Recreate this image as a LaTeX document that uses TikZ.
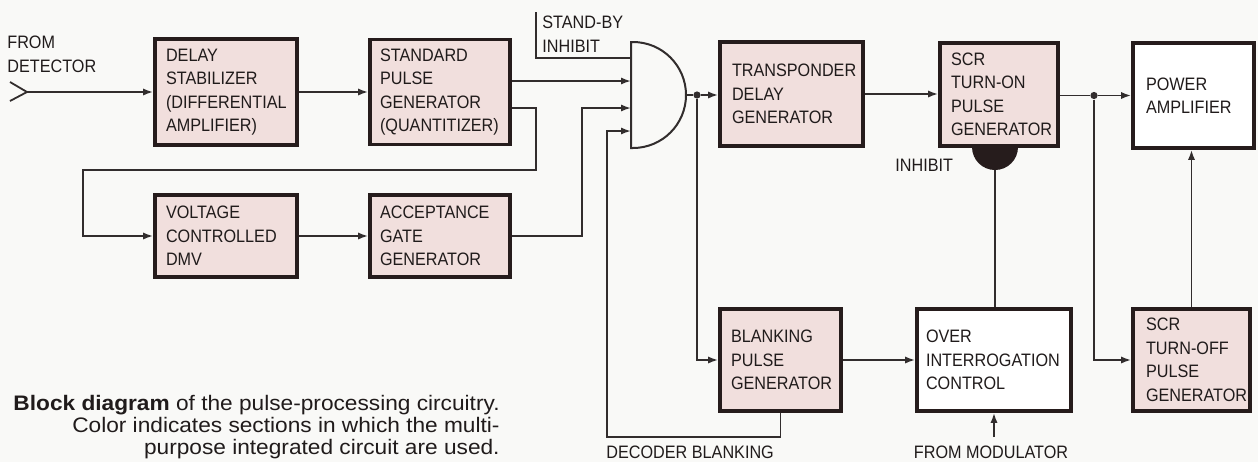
\documentclass[tikz,border=0pt]{standalone}
\usepackage{fontspec}
\setmainfont{Liberation Sans}
\newfontfamily\boxfont[FakeStretch=0.9]{Liberation Sans}
\newfontfamily\capfont[FakeStretch=1.08]{Liberation Sans}
\usetikzlibrary{arrows.meta,calc}
\hyphenpenalty=10000
\exhyphenpenalty=10000
\definecolor{pinkfill}{RGB}{241,223,221}
\definecolor{bordercol}{RGB}{38,28,28}
\definecolor{inkcol}{RGB}{50,45,45}
\definecolor{txtcol}{RGB}{32,27,27}
\definecolor{bgcol}{RGB}{249,249,247}
\begin{document}
\begin{tikzpicture}[x=0.5pt,y=-0.5pt,
  blk/.style={draw=bordercol,line width=1.9pt,fill=pinkfill,text=txtcol,
    font=\boxfont\fontsize{9}{11.75}\selectfont,align=left,inner xsep=5.5pt,inner ysep=0pt},
  wblk/.style={blk,fill=white},
  lbl/.style={text=txtcol,font=\boxfont\fontsize{9}{11.75}\selectfont,inner sep=0pt,align=left},
  capn/.style={text=txtcol,font=\capfont\fontsize{10.5}{11}\selectfont,inner sep=0pt},
  wire/.style={draw=inkcol,line width=0.9pt},
  arr/.style={wire,-{Latex[length=5pt,width=3.6pt]}},
  jdot/.style={circle,fill=inkcol,inner sep=0pt,minimum size=3.6pt}
]
\useasboundingbox (0,0) rectangle (1258,462);
\fill[bgcol] (0,0) rectangle (1258,462);

% blocks
\node[blk,text width=60pt,minimum height=53pt] (b1) at (226,92) {DELAY\\STABILIZER\\(DIFFERENTIAL\\AMPLIFIER)};
\node[blk,inner xsep=5pt,text width=60pt,minimum height=52.5pt] (b2) at (440,92) {STANDARD\\PULSE\\GENERATOR\\(QUANTITIZER)};
\node[blk,text width=60pt,minimum height=41pt] (b3) at (226,236) {VOLTAGE\\CONTROLLED\\DMV};
\node[blk,inner xsep=5pt,text width=60pt,minimum height=41pt] (b4) at (440,236) {ACCEPTANCE\\GATE\\GENERATOR};
\node[blk,inner xsep=6pt,text width=59.5pt,minimum height=52pt] (b5) at (791.5,94) {TRANSPONDER\\DELAY\\GENERATOR};
\node[blk,text width=48pt,minimum height=51.5pt] (b6) at (999,94.5) {SCR\\TURN-ON\\PULSE\\GENERATOR};
\node[wblk,inner xsep=6.5pt,text width=47.5pt,minimum height=52.5pt] (b7) at (1193.5,95.5) {POWER\\AMPLIFIER};
\node[blk,text width=49.5pt,minimum height=51pt] (b8) at (780.5,360) {BLANKING\\PULSE\\GENERATOR};
\node[wblk,inner xsep=4.5pt,text width=68pt,minimum height=51pt] (b9) at (994,360) {OVER\\INTERROGATION\\CONTROL};
\node[blk,inner xsep=6.5pt,text width=45.5pt,minimum height=51pt] (b10) at (1191.5,360) {SCR\\TURN-OFF\\PULSE\\GENERATOR};

% AND gate
\draw[wire,line width=1pt] (631,42) -- (633,42) arc[start angle=-90,end angle=90,radius=53] -- (631,148) -- cycle;
\coordinate (gin1) at (631,58);
\coordinate (gin2) at (631,81);
\coordinate (gin3) at (631,108);
\coordinate (gin4) at (631,131);
\coordinate (gout) at (686,95);

% input chevron
\coordinate (det) at (27,92);
\draw[wire] (10,82) -- (det) -- (10,101);
\draw[arr] (det) -- (det -| b1.west);
\draw[arr] (b1.east) -- (b2.west);

% to gate
\draw[arr] (b2.east |- gin2) -- (gin2);
\coordinate (fb) at (536,170);
\coordinate (fbl) at (83,170);
\draw[arr] (b2.east |- gin3) -| (fb) -- (fbl) |- (b3.west);
\draw[arr] (b3.east) -- (b4.west);
\coordinate (g3x) at (582,108);
\draw[arr] (b4.east) -| (g3x) -- (gin3);
\coordinate (sb) at (536,12);
\draw[wire] (sb) |- (gin1);
\coordinate (db) at (607,437);
\draw[arr] (b8.south) |- (db) |- (gin4);

% gate output
\node[jdot] (j1) at (697,95) {};
\draw[wire] (gout) -- (j1);
\draw[arr] (j1) -- (j1 -| b5.west);
\draw[arr] (j1) |- (b8.west);
\draw[arr] (b5.east) -- (b5.east -| b6.west);

\node[jdot] (j2) at (1094,95.5) {};
\draw[wire] (b6.east |- j2) -- (j2);
\draw[arr] (j2) -- (j2 -| b7.west);
\draw[arr] (j2) |- (b10.west);
\draw[arr] (b10.north) -- (b10.north |- b7.south);
\draw[arr] (b8.east) -- (b9.west);
\coordinate (fm) at (994,437);
\draw[arr] (fm) -- (b9.south);

% inhibit
\fill[bordercol] (972,147) arc[start angle=180,end angle=0,radius=23] -- cycle;
\coordinate (inh) at (995,170);
\draw[wire] (inh) -- (inh |- b9.north);

% labels
\node[lbl,anchor=west] (fromdet) at (7,54.5) {FROM\\DETECTOR};
\node[lbl,anchor=west] (standby) at (542,34) {STAND-BY\\INHIBIT};
\node[lbl,anchor=base west] (inhlbl) at (895,171) {INHIBIT};
\node[lbl,anchor=base west] (declbl) at (606,458) {DECODER BLANKING};
\node[lbl,anchor=base] (modlbl) at (991,458) {FROM MODULATOR};

% caption
\node[capn,anchor=base east] (cap1) at (500,410) {\textbf{Block diagram} of the pulse-processing circuitry.};
\node[capn,anchor=base east] (cap2) at (500,432) {Color indicates sections in which the multi-};
\node[capn,anchor=base east] (cap3) at (500,454) {purpose integrated circuit are used.};
\end{tikzpicture}
\end{document}
